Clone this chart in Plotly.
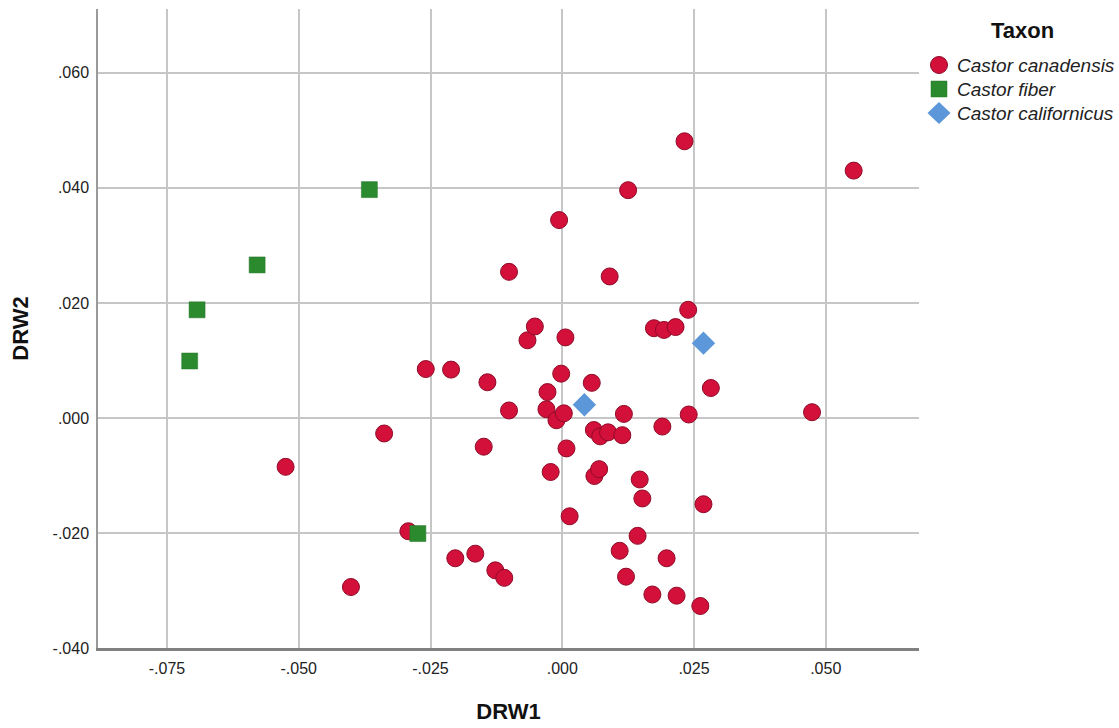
import plotly.graph_objects as go

# Discriminant scores (DRW1, DRW2) per specimen, grouped by taxon
canadensis_drw1 = [-0.0525, -0.0401, -0.0338, -0.0292, -0.0259, -0.0211, -0.0203, -0.0165,
                   -0.0149, -0.0142, -0.0127, -0.0110, -0.0101, -0.0101, -0.0066, -0.0052,
                   -0.0028, -0.0030, -0.0022, -0.0011, -0.0006, -0.0002, 0.0003, 0.0006,
                   0.0008, 0.0014, 0.0056, 0.0060, 0.0061, 0.0070, 0.0072, 0.0087,
                   0.0090, 0.0109, 0.0114, 0.0117, 0.0121, 0.0125, 0.0143, 0.0147,
                   0.0152, 0.0171, 0.0174, 0.0190, 0.0193, 0.0198, 0.0215, 0.0217,
                   0.0232, 0.0239, 0.0240, 0.0262, 0.0268, 0.0282, 0.0474, 0.0553]
canadensis_drw2 = [-0.0085, -0.0294, -0.0027, -0.0197, 0.0085, 0.0084, -0.0244, -0.0236,
                   -0.0050, 0.0062, -0.0265, -0.0278, 0.0254, 0.0013, 0.0135, 0.0159,
                   0.0045, 0.0015, -0.0094, -0.0004, 0.0344, 0.0077, 0.0008, 0.0140,
                   -0.0053, -0.0171, 0.0061, -0.0021, -0.0101, -0.0089, -0.0032, -0.0025,
                   0.0246, -0.0231, -0.0030, 0.0007, -0.0276, 0.0396, -0.0205, -0.0107,
                   -0.0140, -0.0307, 0.0156, -0.0015, 0.0153, -0.0244, 0.0158, -0.0309,
                   0.0481, 0.0188, 0.0006, -0.0327, -0.0150, 0.0052, 0.0010, 0.0430]

fiber_drw1 = [-0.0707, -0.0693, -0.0579, -0.0366, -0.0274]
fiber_drw2 = [0.0099, 0.0188, 0.0266, 0.0397, -0.0201]

californicus_drw1 = [0.0042, 0.0268]
californicus_drw2 = [0.0023, 0.0130]

taxa = ["Castor canadensis", "Castor fiber", "Castor californicus"]

x_ticks = [-0.075, -0.050, -0.025, 0.0, 0.025, 0.050]
x_tick_labels = ["-.075", "-.050", "-.025", ".000", ".025", ".050"]
y_ticks = [-0.04, -0.02, 0.0, 0.02, 0.04, 0.06]
y_tick_labels = ["-.040", "-.020", ".000", ".020", ".040", ".060"]

FONT = "Liberation Sans, Arial, sans-serif"
RED, RED_EDGE = "#d3103a", "#8f0a27"
GREEN, GREEN_EDGE = "#2b8a2e", "#23752a"
BLUE = "#5b97d9"

W, H = 1119, 728
M_L, M_R, M_T, M_B = 98, 200, 9, 80
PLOT_W, PLOT_H = W - M_L - M_R, H - M_T - M_B


def paper_x(px):
    return (px - M_L) / PLOT_W


def paper_y(py):
    return (H - M_B - py) / PLOT_H


fig = go.Figure()

fig.add_trace(go.Scatter(
    x=canadensis_drw1, y=canadensis_drw2, mode="markers", name=taxa[0],
    marker=dict(symbol="circle", size=17, color=RED, line=dict(color=RED_EDGE, width=1)),
))
fig.add_trace(go.Scatter(
    x=fiber_drw1, y=fiber_drw2, mode="markers", name=taxa[1],
    marker=dict(symbol="square", size=16, color=GREEN, line=dict(color=GREEN_EDGE, width=0.5)),
))
fig.add_trace(go.Scatter(
    x=californicus_drw1, y=californicus_drw2, mode="markers", name=taxa[2],
    marker=dict(symbol="diamond", size=18, color=BLUE, line=dict(width=0)),
))

# Key on the right: symbol swatches plus italic taxon names under a bold heading
key_x, key_text_x = 939, 955
key_rows = [65, 89, 113]
shapes = []
annotations = [dict(
    text="<b>Taxon</b>", xref="paper", yref="paper",
    x=paper_x(1022), y=paper_y(30), xanchor="center", yanchor="middle",
    showarrow=False, font=dict(size=22, color="#111111"),
)]
swatches = [
    dict(type="circle", x0=-8.5, x1=8.5, y0=-8.5, y1=8.5,
         fillcolor=RED, line=dict(color=RED_EDGE, width=1)),
    dict(type="rect", x0=-8, x1=8, y0=-8, y1=8,
         fillcolor=GREEN, line=dict(color=GREEN_EDGE, width=0.5)),
    dict(type="path", path="M -11.5,0 L 0,-11 L 11.5,0 L 0,11 Z",
         fillcolor=BLUE, line=dict(width=0)),
]
for name, row, sw in zip(taxa, key_rows, swatches):
    shapes.append(dict(
        xref="paper", yref="paper", xsizemode="pixel", ysizemode="pixel",
        xanchor=paper_x(key_x), yanchor=paper_y(row), layer="above", **sw,
    ))
    annotations.append(dict(
        text=f"<i>{name}</i>", xref="paper", yref="paper",
        x=paper_x(key_text_x), y=paper_y(row), xanchor="left", yanchor="middle",
        showarrow=False, font=dict(size=19, color="#222222"),
    ))

fig.update_layout(
    width=W, height=H,
    margin=dict(l=M_L, r=M_R, t=M_T, b=M_B, autoexpand=False),
    paper_bgcolor="white", plot_bgcolor="white",
    font=dict(family=FONT, color="#222222", size=16),
    showlegend=False,
    shapes=shapes,
    annotations=annotations,
    xaxis=dict(
        range=[-0.0881, 0.0677],
        tickvals=x_ticks, ticktext=x_tick_labels,
        showgrid=True, gridcolor="#c6c6c6", gridwidth=1.5,
        zeroline=False, showline=True, linecolor="#808080", linewidth=2.5,
        ticks="", ticklabelstandoff=4, tickfont=dict(size=16, color="#222222"),
        title=dict(text="<b>DRW1</b>", font=dict(size=22, color="#111111"), standoff=28),
    ),
    yaxis=dict(
        range=[-0.040, 0.0711],
        tickvals=y_ticks, ticktext=y_tick_labels,
        showgrid=True, gridcolor="#c6c6c6", gridwidth=1.5,
        zeroline=False, showline=True, linecolor="#9a9a9a", linewidth=1.5,
        ticks="", ticklabelstandoff=4, tickfont=dict(size=16, color="#222222"),
        title=dict(text="<b>DRW2</b>", font=dict(size=22, color="#111111"), standoff=18),
    ),
)

fig.write_html("out.html")
